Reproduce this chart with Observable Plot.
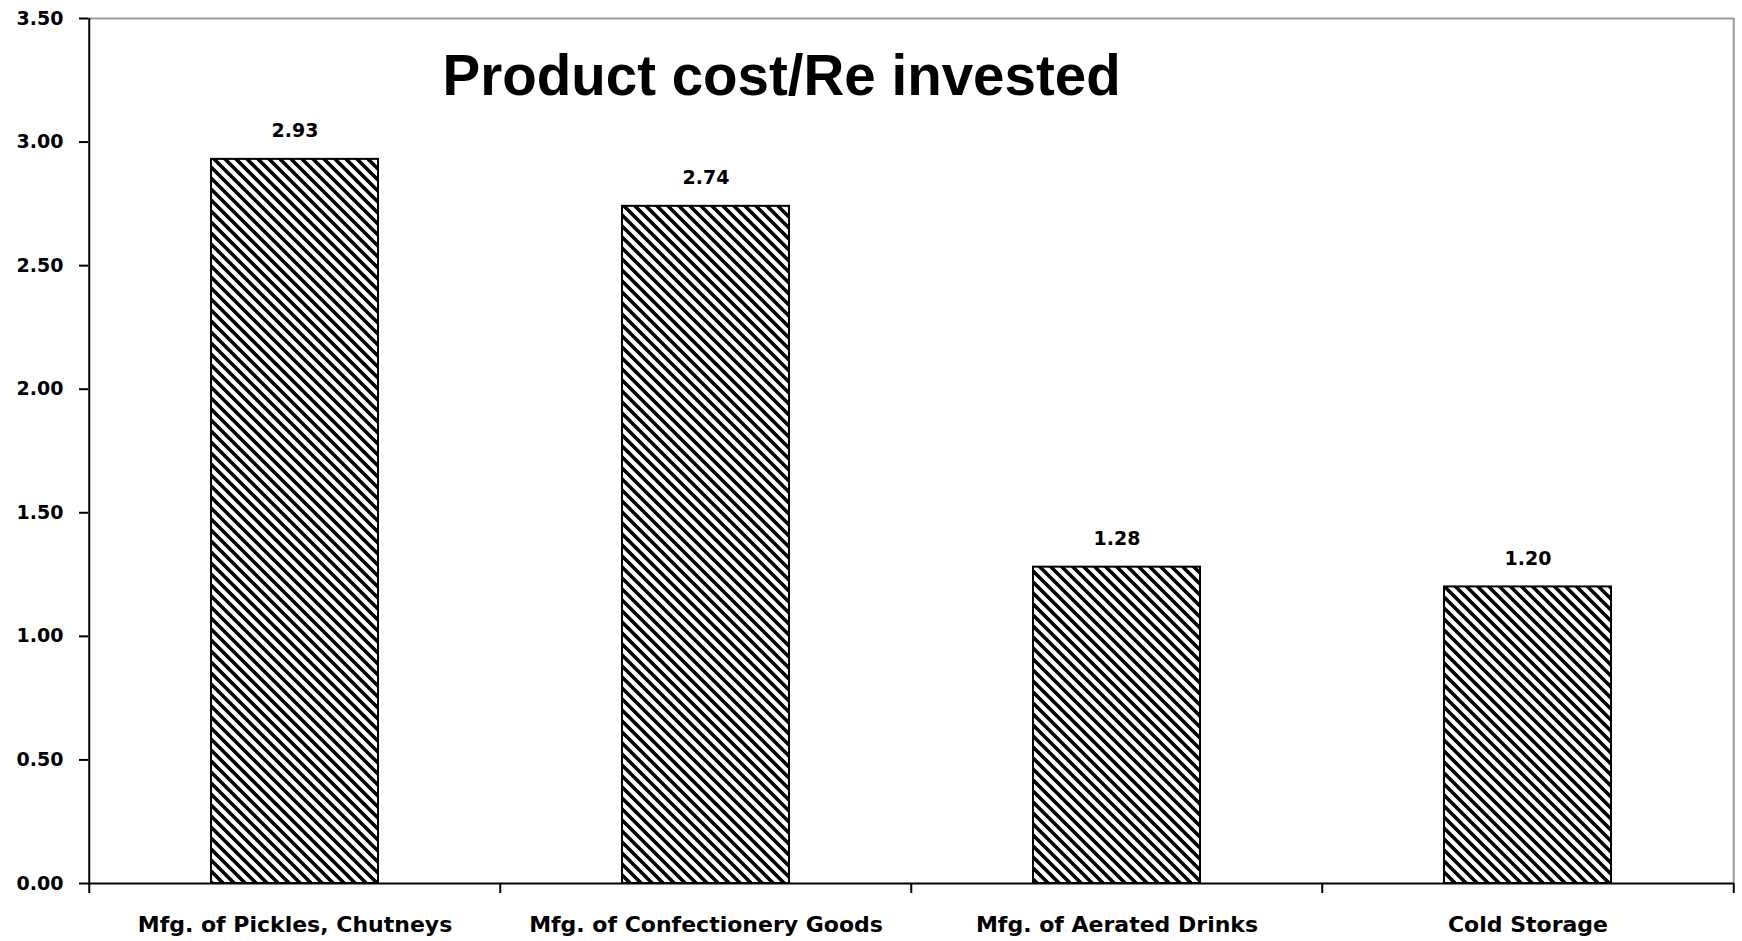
<!DOCTYPE html>
<html>
<head>
<meta charset="utf-8">
<script src="https://cdn.jsdelivr.net/npm/d3@7"></script>
<script src="https://cdn.jsdelivr.net/npm/@observablehq/plot@0.6"></script>
<style>
  html, body { margin: 0; padding: 0; background: #fff; }
  #chart svg { display: block; }
</style>
</head>
<body>
<div id="chart"></div>
<script>
// Product cost per rupee invested, by industry
const categories = [
  "Mfg. of Pickles, Chutneys",
  "Mfg. of Confectionery Goods",
  "Mfg. of Aerated Drinks",
  "Cold Storage"
];
const values = [2.93, 2.74, 1.28, 1.20];
const yTicks = [0, 0.5, 1, 1.5, 2, 2.5, 3, 3.5];
const title = "Product cost/Re invested";

const rows = categories.map((category, i) => ({category, value: values[i]}));

const width = 1742;
const height = 941;
const margin = {top: 18, right: 8, bottom: 58, left: 88};
const step = (width - margin.left - margin.right) / categories.length;
const fmt = d3.format(".2f");
const last = categories[categories.length - 1];

const chart = Plot.plot({
  width,
  height,
  marginTop: margin.top,
  marginRight: margin.right,
  marginBottom: margin.bottom,
  marginLeft: margin.left,
  style: {background: "#fff", color: "#000", fontFamily: "DejaVu Sans", fontWeight: "bold", overflow: "visible"},
  x: {domain: categories, paddingInner: 0.594, paddingOuter: 0.297, label: null},
  y: {domain: [0, 3.5], label: null},
  marks: [
    // plot area border: grey top and right edges
    Plot.ruleY([3.5], {stroke: "#9a9a9a", strokeWidth: 2}),
    Plot.ruleX([last], {dx: step / 2, stroke: "#9a9a9a", strokeWidth: 2}),
    // hatched bars
    Plot.barY(rows, {x: "category", y: "value", fill: "url(#hatch)", stroke: "#000", strokeWidth: 2}),
    // value labels
    Plot.text(rows, {x: "category", y: "value", text: d => fmt(d.value), lineAnchor: "bottom", dy: -22,
      fontSize: 19, fontWeight: "bold", fontFamily: "DejaVu Sans", fill: "#000"}),
    // axis lines
    Plot.ruleX([categories[0]], {dx: -step / 2, y1: 3.5, y2: 0, insetBottom: -10, stroke: "#000", strokeWidth: 2}),
    Plot.ruleY([0], {stroke: "#000", strokeWidth: 2}),
    // category boundary ticks
    Plot.ruleX(categories.slice(1), {dx: -step / 2, y1: 0, y2: 0, insetBottom: -10, stroke: "#000", strokeWidth: 2}),
    Plot.ruleX([last], {dx: step / 2, y1: 0, y2: 0, insetBottom: -10, stroke: "#000", strokeWidth: 2}),
    Plot.axisY({ticks: yTicks, tickFormat: fmt, tickSize: 9, tickPadding: 16, fontSize: 19,
      stroke: "#000", strokeWidth: 2, label: null}),
    Plot.axisX({tickSize: 0, tickPadding: 33, fontSize: 22, label: null}),
    // chart title inside the plot area
    Plot.text([title], {frameAnchor: "top-left", dx: 354, dy: 76, lineAnchor: "bottom", textAnchor: "start",
      fontSize: 56.5, fontWeight: "bold", fontFamily: "Liberation Sans", fill: "#000"})
  ]
});

// diagonal hatch fill used by the bars
const defs = d3.select(chart).insert("defs", ":first-child");
const pat = defs.append("pattern")
  .attr("id", "hatch")
  .attr("patternUnits", "userSpaceOnUse")
  .attr("width", 11)
  .attr("height", 11);
pat.append("rect").attr("width", 11).attr("height", 11).attr("fill", "#fff");
pat.append("path")
  .attr("d", "M-1,-1 L12,12 M-6.5,4.5 L6.5,17.5 M4.5,-6.5 L17.5,6.5")
  .attr("stroke", "#000")
  .attr("stroke-width", 3.6)
  .attr("fill", "none");

document.getElementById("chart").appendChild(chart);
</script>
</body>
</html>
